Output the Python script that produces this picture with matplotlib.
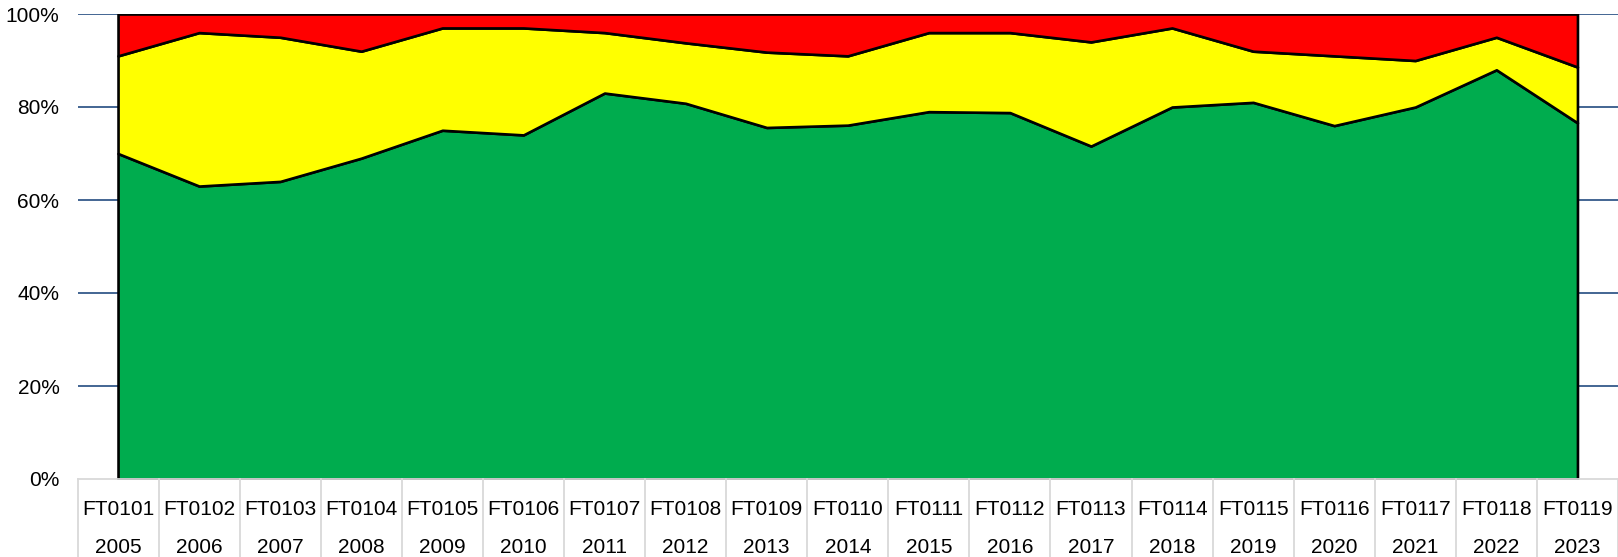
import matplotlib
matplotlib.use("Agg")
import matplotlib.pyplot as plt
import numpy as np

codes = ["FT0101", "FT0102", "FT0103", "FT0104", "FT0105", "FT0106", "FT0107",
         "FT0108", "FT0109", "FT0110", "FT0111", "FT0112", "FT0113", "FT0114",
         "FT0115", "FT0116", "FT0117", "FT0118", "FT0119"]
years = ["2005", "2006", "2007", "2008", "2009", "2010", "2011", "2012", "2013",
         "2014", "2015", "2016", "2017", "2018", "2019", "2020", "2021", "2022", "2023"]

green = [70, 63, 64, 69, 75, 74, 83, 80.8, 75.6, 76.1, 79, 78.8, 71.6, 80, 81, 76, 80, 88, 76.6]
yellow = [21, 33, 31, 23, 22, 23, 13, 13, 16.2, 14.9, 17, 17.2, 22.4, 17, 11, 15, 10, 7, 12]
red = [9, 4, 5, 8, 3, 3, 4, 6.2, 8.2, 9, 4, 4, 6, 3, 8, 9, 10, 5, 11.4]

plt.rcParams['font.family'] = ['Liberation Sans', 'DejaVu Sans']

W, H = 1618, 557
fig = plt.figure(figsize=(W / 100, H / 100), dpi=100)
ax_left_px, ax_top_px, ax_bot_px = 77.5, 14, 479
ax = fig.add_axes([ax_left_px / W, 1 - ax_bot_px / H, 1 - ax_left_px / W, (ax_bot_px - ax_top_px) / H])

x = np.arange(len(codes))
ax.set_xlim(-0.5, len(codes) - 0.5)
ax.set_ylim(0, 100)

for v in [20, 40, 60, 80, 100]:
    ax.axhline(v, color='#34598A', lw=1.3, zorder=1)

ax.stackplot(x, green, yellow, red, colors=['#00AC4E', '#FFFF00', '#FF0000'],
             edgecolor='black', linewidth=1.9, zorder=2)

for s in ax.spines.values():
    s.set_visible(False)
ax.axhline(0, color='#D9D9D9', lw=1.3, zorder=3, clip_on=False)

ax.set_yticks([0, 20, 40, 60, 80, 100])
ax.set_yticklabels([f"{v}%" for v in [0, 20, 40, 60, 80, 100]], fontsize=15)
ax.tick_params(axis='y', length=0, pad=13)
ax.set_xticks([])

for i in range(len(codes) + 1):
    ax.plot([i - 0.5, i - 0.5], [0, -0.2], transform=ax.get_xaxis_transform(),
            color='#D9D9D9', lw=1.3, clip_on=False)
for i in range(len(codes)):
    ax.text(i, -0.066, codes[i], transform=ax.get_xaxis_transform(), ha='center',
            va='center', fontsize=15)
    ax.text(i, -0.147, years[i], transform=ax.get_xaxis_transform(), ha='center',
            va='center', fontsize=15)

fig.savefig("out.png", dpi=100)
